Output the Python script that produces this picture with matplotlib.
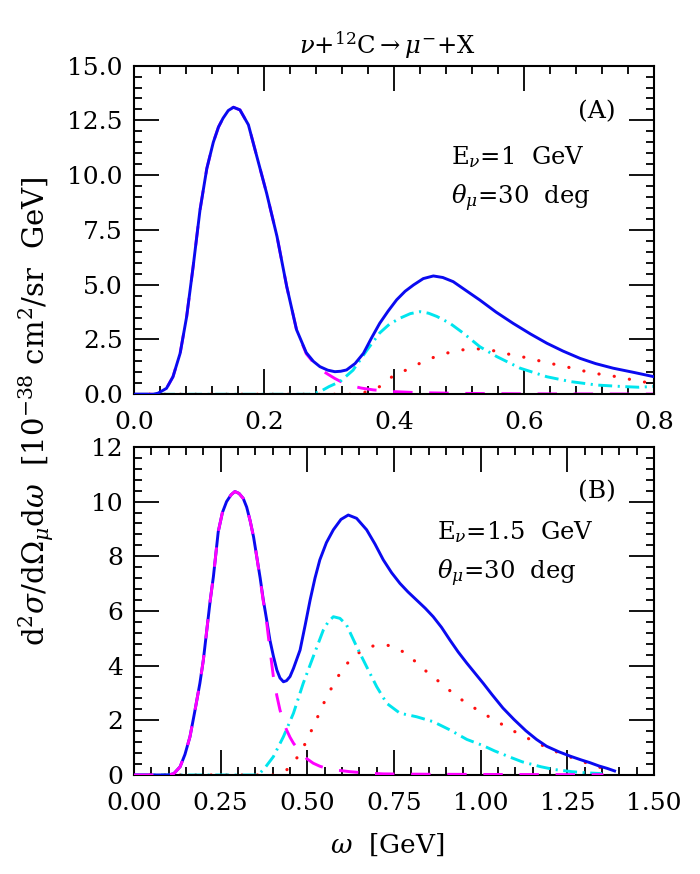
import matplotlib
matplotlib.use("Agg")
import matplotlib.pyplot as plt
from matplotlib.ticker import MultipleLocator, FixedLocator

plt.rcParams['font.family'] = ['DejaVu Serif']
plt.rcParams['mathtext.fontset'] = 'dejavuserif'
plt.rcParams['lines.scale_dashes'] = False

# ---------------- Panel A data (E_nu = 1 GeV) ----------------
wA_total = [0.0, 0.03, 0.037, 0.05, 0.06, 0.071, 0.081, 0.091, 0.1015, 0.112, 0.122, 0.13, 0.137, 0.145, 0.153,
            0.163, 0.176, 0.189, 0.204, 0.22, 0.235, 0.25, 0.265, 0.276, 0.286, 0.298, 0.309, 0.318, 0.327,
            0.34, 0.353, 0.365, 0.378, 0.391, 0.404, 0.417, 0.43, 0.445, 0.4605, 0.475, 0.491, 0.51, 0.532,
            0.557, 0.583, 0.61, 0.635, 0.66, 0.686, 0.71, 0.737, 0.77, 0.8]
A_total = [0.0, 0.0, 0.05, 0.27, 0.8, 1.87, 3.54, 5.83, 8.4, 10.3, 11.5, 12.2, 12.6, 12.95, 13.1,
           12.98, 12.3, 10.85, 9.18, 7.2, 4.91, 2.95, 1.9, 1.5, 1.26, 1.1, 1.03, 1.05, 1.11,
           1.4, 1.87, 2.55, 3.24, 3.8, 4.31, 4.7, 4.99, 5.28, 5.4, 5.33, 5.14, 4.75, 4.3,
           3.75, 3.24, 2.75, 2.33, 1.97, 1.64, 1.4, 1.19, 0.99, 0.8]

wA_qe = [0.0, 0.03, 0.037, 0.05, 0.06, 0.071, 0.081, 0.091, 0.1015, 0.112, 0.122, 0.13, 0.137, 0.145, 0.153,
         0.163, 0.176, 0.189, 0.204, 0.22, 0.235, 0.25, 0.265, 0.276, 0.286, 0.298, 0.309, 0.32, 0.335,
         0.35, 0.368, 0.40, 0.44, 0.51, 0.6, 0.7, 0.8]
A_qe = [0.0, 0.0, 0.05, 0.27, 0.8, 1.87, 3.54, 5.83, 8.4, 10.3, 11.5, 12.2, 12.6, 12.95, 13.1,
        12.98, 12.3, 10.85, 9.18, 7.2, 4.91, 2.95, 1.85, 1.45, 1.15, 0.92, 0.72, 0.55, 0.38,
        0.28, 0.2, 0.12, 0.07, 0.04, 0.02, 0.015, 0.01]

wA_delta = [0.0, 0.27, 0.285, 0.30, 0.317, 0.337, 0.358, 0.378, 0.393, 0.409, 0.425, 0.44, 0.453, 0.466,
            0.486, 0.507, 0.532, 0.558, 0.594, 0.635, 0.671, 0.712, 0.753, 0.777, 0.8]
A_delta = [0.0, 0.0, 0.1, 0.35, 0.58, 1.1, 2.0, 2.8, 3.2, 3.47, 3.68, 3.77, 3.7, 3.55,
           3.24, 2.78, 2.17, 1.72, 1.19, 0.80, 0.58, 0.42, 0.35, 0.32, 0.36]

wA_np = [0.0, 0.345, 0.358, 0.378, 0.399, 0.425, 0.45, 0.476, 0.501, 0.53, 0.555, 0.578, 0.607, 0.635,
         0.66, 0.689, 0.714, 0.743, 0.768, 0.8]
A_np = [0.0, 0.0, 0.12, 0.35, 0.85, 1.19, 1.57, 1.84, 2.02, 2.07, 1.98, 1.82, 1.65, 1.44,
        1.29, 1.08, 0.93, 0.80, 0.65, 0.48]

# ---------------- Panel B data (E_nu = 1.5 GeV) ----------------
wB_total = [0.0, 0.10, 0.115, 0.133, 0.147, 0.1615, 0.175, 0.19, 0.20, 0.21, 0.22, 0.229, 0.243, 0.255,
            0.267, 0.28, 0.291, 0.303, 0.315, 0.325, 0.335, 0.345, 0.354, 0.364, 0.373, 0.383, 0.392,
            0.402, 0.412, 0.421, 0.431, 0.44, 0.45, 0.46, 0.479, 0.494, 0.508, 0.522, 0.536, 0.555,
            0.575, 0.597, 0.618, 0.642, 0.671, 0.695, 0.719, 0.743, 0.767, 0.79, 0.815, 0.84, 0.863,
            0.887, 0.911, 0.935, 0.96, 0.985, 1.0075, 1.032, 1.064, 1.096, 1.13, 1.161, 1.19, 1.225,
            1.26, 1.29, 1.315, 1.341, 1.365, 1.39]
B_total = [0.0, 0.0, 0.05, 0.30, 0.75, 1.40, 2.3, 3.35, 4.2, 5.3, 6.4, 7.25, 8.9, 9.6,
           10.0, 10.25, 10.37, 10.3, 10.12, 9.8, 9.3, 8.7, 7.99, 7.2, 6.4, 5.65, 4.94,
           4.35, 3.84, 3.55, 3.41, 3.45, 3.6, 3.9, 4.57, 5.5, 6.4, 7.2, 7.87, 8.5,
           8.97, 9.35, 9.51, 9.39, 8.97, 8.45, 7.87, 7.4, 7.01, 6.7, 6.4, 6.1, 5.79,
           5.4, 4.94, 4.5, 4.09, 3.7, 3.35, 2.95, 2.45, 2.03, 1.62, 1.30, 1.05, 0.85,
           0.68, 0.55, 0.45, 0.33, 0.24, 0.13]

wB_qe = [0.0, 0.10, 0.115, 0.133, 0.147, 0.1615, 0.175, 0.19, 0.20, 0.21, 0.22, 0.229, 0.243, 0.255,
         0.267, 0.28, 0.291, 0.303, 0.315, 0.325, 0.335, 0.345, 0.354, 0.364, 0.373, 0.383, 0.392,
         0.402, 0.412, 0.421, 0.431, 0.44, 0.45, 0.46, 0.479, 0.498, 0.517, 0.536, 0.556, 0.59,
         0.623, 0.67, 0.719, 0.8, 1.0, 1.354]
B_qe = [0.0, 0.0, 0.05, 0.30, 0.75, 1.40, 2.3, 3.35, 4.2, 5.3, 6.4, 7.25, 8.9, 9.6,
        10.0, 10.25, 10.37, 10.3, 10.12, 9.8, 9.3, 8.7, 7.99, 7.15, 6.35, 5.55, 4.6,
        3.6, 2.9, 2.38, 1.95, 1.65, 1.38, 1.16, 0.85, 0.6, 0.43, 0.32, 0.24, 0.17,
        0.12, 0.07, 0.04, 0.03, 0.02, 0.01]

wB_delta = [0.0, 0.355, 0.363, 0.38, 0.402, 0.431, 0.46, 0.488, 0.517, 0.546, 0.56, 0.575, 0.594, 0.613,
            0.642, 0.671, 0.70, 0.729, 0.767, 0.815, 0.863, 0.911, 0.96, 1.006, 1.04, 1.083, 1.12,
            1.174, 1.212, 1.264, 1.303, 1.35]
B_delta = [0.0, 0.0, 0.06, 0.3, 0.67, 1.4, 2.26, 3.35, 4.33, 5.3, 5.6, 5.79, 5.73, 5.49,
           4.7, 3.96, 3.23, 2.62, 2.26, 2.13, 1.95, 1.65, 1.3, 1.08, 0.88, 0.66, 0.48,
           0.3, 0.2, 0.12, 0.08, 0.05]

wB_np = [0.0, 0.405, 0.42, 0.44, 0.46, 0.479, 0.498, 0.517, 0.536, 0.556, 0.575, 0.594, 0.613, 0.633,
         0.652, 0.671, 0.69, 0.71, 0.729, 0.748, 0.777, 0.806, 0.844, 0.892, 0.931, 0.969, 1.006,
         1.056, 1.096, 1.161, 1.225, 1.277, 1.329, 1.38]
B_np = [0.0, 0.0, 0.05, 0.18, 0.45, 0.79, 1.25, 1.77, 2.3, 2.87, 3.3, 3.72, 4.05, 4.33,
        4.5, 4.63, 4.72, 4.76, 4.75, 4.70, 4.5, 4.21, 3.78, 3.29, 2.87, 2.55, 2.26,
        1.89, 1.6, 1.18, 0.81, 0.57, 0.33, 0.15]

A_yticks = [0.0, 2.5, 5.0, 7.5, 10.0, 12.5, 15.0]
A_xticks = [0.0, 0.2, 0.4, 0.6, 0.8]
B_yticks = [0, 2, 4, 6, 8, 10, 12]
B_xticks = [0.0, 0.25, 0.5, 0.75, 1.0, 1.25, 1.5]

BLUE = '#0a0af0'
MAG = '#ff00ff'
CYAN = '#00e5ee'
RED = '#ff1010'
LW = 2.1

fig = plt.figure(figsize=(7.0, 8.74), dpi=100)
ax1 = fig.add_axes([0.1914, 0.5489, 0.743, 0.376])
ax2 = fig.add_axes([0.1914, 0.1133, 0.743, 0.3753])


def draw(ax, wt, t, wq, q, wd, d, wn, n, mag_on_top):
    ax.plot(wt, t, color=BLUE, lw=LW, zorder=3, solid_capstyle='butt', solid_joinstyle='round')
    ln, = ax.plot(wq, q, color=MAG, lw=LW, zorder=4 if mag_on_top else 2)
    ln.set_dashes([14, 12])
    ln, = ax.plot(wd, d, color=CYAN, lw=LW, zorder=2.5)
    ln.set_dashes([10, 4, 1.5, 4])
    ln, = ax.plot(wn, n, color=RED, lw=2.3, zorder=2.4, dash_capstyle='round')
    ln.set_dashes([0.1, 11])


draw(ax1, wA_total, A_total, wA_qe, A_qe, wA_delta, A_delta, wA_np, A_np, False)
draw(ax2, wB_total, B_total, wB_qe, B_qe, wB_delta, B_delta, wB_np, B_np, True)

ax1.set_xlim(0, 0.8)
ax1.set_ylim(0, 15)
ax1.xaxis.set_major_locator(FixedLocator(A_xticks))
ax1.xaxis.set_minor_locator(MultipleLocator(0.04))
ax1.yaxis.set_major_locator(FixedLocator(A_yticks))
ax1.yaxis.set_minor_locator(MultipleLocator(0.5))
ax1.set_xticklabels([f"{v:.1f}" for v in A_xticks])
ax1.set_yticklabels([f"{v:.1f}" for v in A_yticks])

ax2.set_xlim(0, 1.5)
ax2.set_ylim(0, 12)
ax2.xaxis.set_major_locator(FixedLocator(B_xticks))
ax2.xaxis.set_minor_locator(MultipleLocator(0.05))
ax2.yaxis.set_major_locator(FixedLocator(B_yticks))
ax2.yaxis.set_minor_locator(MultipleLocator(0.4))
ax2.set_xticklabels([f"{v:.2f}" for v in B_xticks])
ax2.set_yticklabels([f"{v:d}" for v in B_yticks])

for ax in (ax1, ax2):
    for s in ax.spines.values():
        s.set_linewidth(1.5)
    ax.tick_params(which='both', direction='in', top=True, right=True, width=1.3, color='black')
    ax.tick_params(which='major', length=18, labelsize=18, pad=12)
    ax.tick_params(axis='y', which='major', pad=8)
    ax.tick_params(which='minor', length=6)

TS = 17.5
ax1.text(0.89, 0.859, "(A)", transform=ax1.transAxes, ha='center', va='center', fontsize=18)
ax1.text(0.61, 0.722, r"E$_\nu$=1  GeV", transform=ax1.transAxes, ha='left', va='center', fontsize=TS)
ax1.text(0.61, 0.597, r"$\theta_\mu$=30  deg", transform=ax1.transAxes, ha='left', va='center', fontsize=TS)

ax2.text(0.89, 0.864, "(B)", transform=ax2.transAxes, ha='center', va='center', fontsize=18)
ax2.text(0.583, 0.742, r"E$_\nu$=1.5  GeV", transform=ax2.transAxes, ha='left', va='center', fontsize=TS)
ax2.text(0.583, 0.616, r"$\theta_\mu$=30  deg", transform=ax2.transAxes, ha='left', va='center', fontsize=TS)

fig.text(0.553, 0.948, r"$\nu$+$^{12}$C$\rightarrow$$\mu^{-}$+X", ha='center', va='center', fontsize=17.5)
fig.text(0.553, 0.034, r"$\omega$  [GeV]", ha='center', va='center', fontsize=19)
fig.text(0.052, 0.53, r"d$^{2}\sigma$/d$\Omega_{\mu}$d$\omega$  [10$^{-38}$ cm$^{2}$/sr  GeV]",
         rotation=90, ha='center', va='center', fontsize=21)

fig.savefig("out.png", dpi=100)
